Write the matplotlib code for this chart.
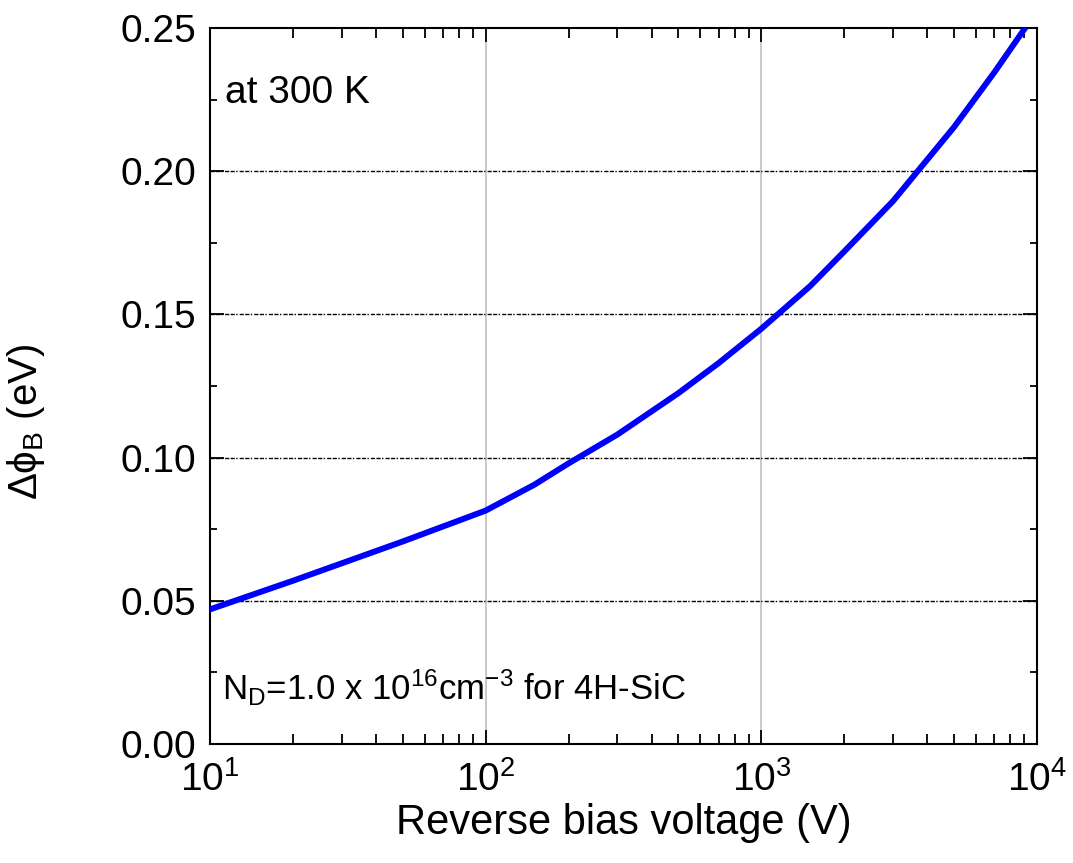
import numpy as np
import matplotlib
matplotlib.use('Agg')
import matplotlib.pyplot as plt
from matplotlib.ticker import MultipleLocator, LogLocator, FormatStrFormatter

plt.rcParams['font.family'] = ['Liberation Sans', 'DejaVu Sans']
plt.rcParams['mathtext.fontset'] = 'custom'
plt.rcParams['mathtext.rm'] = 'Liberation Sans'
plt.rcParams['mathtext.it'] = 'Liberation Sans:italic'
plt.rcParams['mathtext.bf'] = 'Liberation Sans:bold'

# barrier lowering vs reverse bias
voltage = [10, 20, 50, 100, 150, 200, 300, 500, 700, 1000, 1500, 2000, 3000, 5000, 7000, 10000]
dphi = [0.047, 0.057, 0.0707, 0.0815, 0.0905, 0.098, 0.108, 0.1225, 0.133, 0.145,
        0.1598, 0.172, 0.1895, 0.2154, 0.2345, 0.256]

fig = plt.figure(figsize=(10.73, 8.63), dpi=100)
ax = fig.add_axes([0.1957, 0.1379, 0.7708, 0.8297])

ax.plot(voltage, dphi, color='#0000ff', lw=4.3, solid_joinstyle='round', zorder=3)

ax.set_xscale('log')
ax.set_xlim(10, 1e4)
ax.set_ylim(0, 0.25)

# grid: light gray verticals at decades, dash-dot horizontals
for xv in [100, 1000]:
    ax.axvline(xv, color='#c8c8c8', lw=1.4, zorder=1)
for yv in [0.05, 0.10, 0.15, 0.20]:
    ax.axhline(yv, color='black', lw=1.0, linestyle=(0, (3, 1, 3, 1, 1, 1.5)), zorder=1)

ax.yaxis.set_major_locator(MultipleLocator(0.05))
ax.yaxis.set_minor_locator(MultipleLocator(0.025))
ax.yaxis.set_major_formatter(FormatStrFormatter('%.2f'))
ax.xaxis.set_major_locator(LogLocator(base=10, numticks=10))
ax.xaxis.set_minor_locator(LogLocator(base=10, subs=np.arange(2, 10), numticks=20))

ax.tick_params(which='both', direction='in', top=True, right=True, width=1.3, colors='black')
ax.tick_params(axis='y', which='major', length=10, labelsize=28, pad=10)
ax.tick_params(axis='y', which='minor', length=5)
ax.tick_params(axis='x', which='major', length=10, labelsize=28, pad=12)
ax.tick_params(axis='x', which='minor', length=7)

for s in ax.spines.values():
    s.set_linewidth(1.5)

ax.set_xlabel('Reverse bias voltage (V)', fontsize=30)
ax.xaxis.set_label_coords(0.5, -0.082)
ax.set_ylabel(r'$\Delta\mathrm{\phi}_{\mathrm{B}}$ (eV)', fontsize=29)
ax.yaxis.set_label_coords(-0.197, 0.45)

ax.text(0.018, 0.895, 'at 300 K', transform=ax.transAxes, fontsize=28, va='baseline')
ax.text(0.0145, 0.061, r'N$_{\mathregular{D}}$=1.0 x 10$^{\mathregular{16}}$cm$^{\mathregular{-3}}$ for 4H-SiC',
        transform=ax.transAxes, fontsize=25, va='baseline')

fig.savefig('out.png', dpi=100)
